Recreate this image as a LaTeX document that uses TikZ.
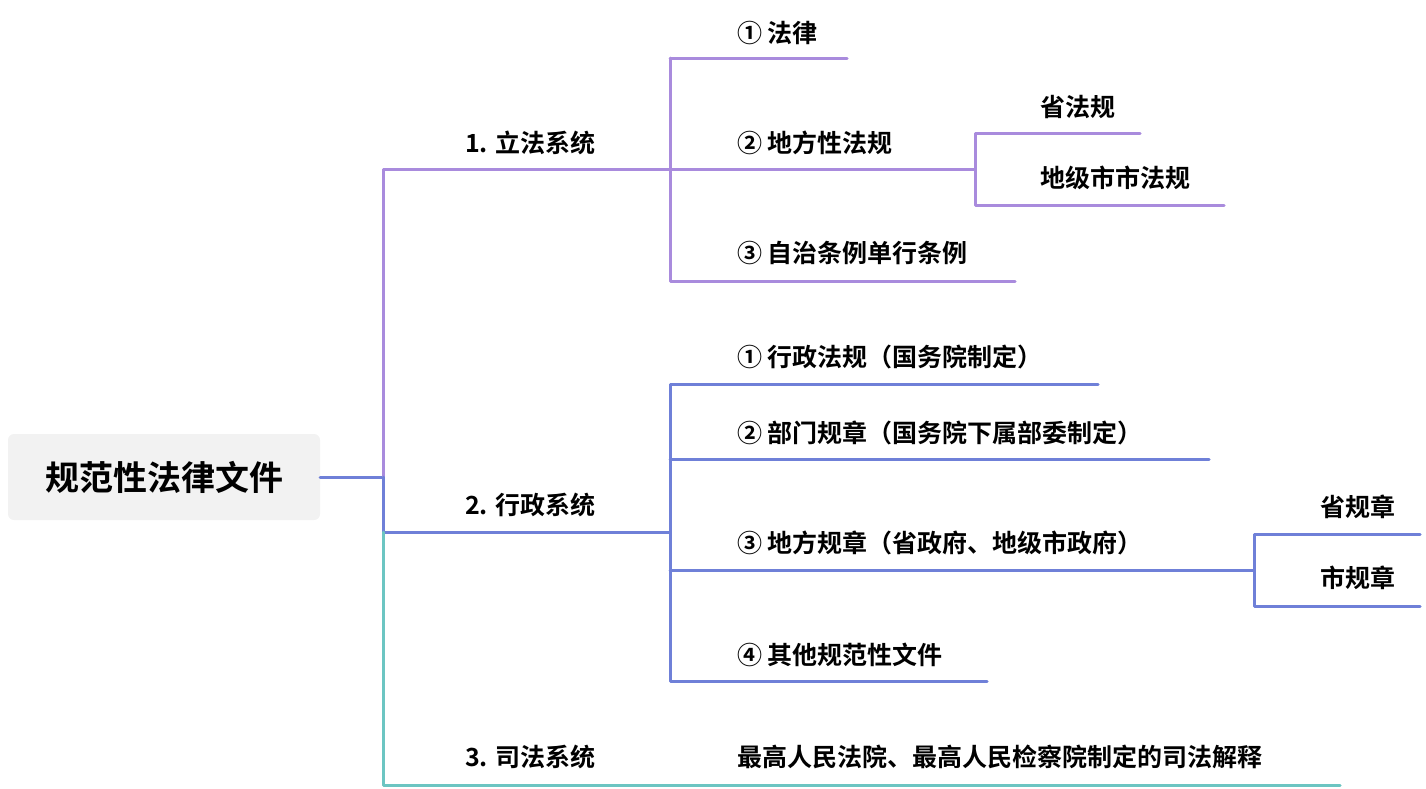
\documentclass[tikz,border=0pt]{standalone}
\usepackage{fontspec}
\setmainfont{Noto Sans CJK SC}[BoldFont={* Bold}]
\definecolor{pur}{HTML}{A98BDD}
\definecolor{blu}{HTML}{6F80D8}
\definecolor{tea}{HTML}{6CC5C2}
\begin{document}
\begin{tikzpicture}[x=1pt,y=-1pt,
  lbl/.style={anchor=west,inner sep=0pt,font=\fontsize{25}{28}\selectfont\bfseries},
  ln/.style={line width=3pt,line cap=round,line join=round}]
\useasboundingbox (0,0) rectangle (1426,788);
\node[fill=black!5,rounded corners=6pt,minimum width=312pt,minimum height=86pt,font=\fontsize{34}{38}\selectfont\bfseries] (root) at (164,477) {规范性法律文件};
\coordinate (j) at (383,477);
\draw[ln,blu] (root.east) -- (j);
% branch 1
\draw[ln,pur] (j) -- (383,169) -- (670,169);
\draw[ln,pur] (670,58) -- (847,58);
\draw[ln,pur] (670,58) -- (670,281) -- (1015,281);
\draw[ln,pur] (670,169) -- (975,169);
\draw[ln,pur] (1140,133) -- (975,133) -- (975,205) -- (1224,205);
\node[lbl] (b1) at (465,143) {1. 立法系统};
\node[lbl] (a1) at (737,33) {① 法律};
\node[lbl] (a2) at (737,143) {② 地方性法规};
\node[lbl] (a3) at (737,253) {③ 自治条例单行条例};
\node[lbl] (a21) at (1040,107) {省法规};
\node[lbl] (a22) at (1040,178) {地级市市法规};
% branch 2
\draw[ln,blu] (j) -- (383,532) -- (670,532);
\draw[ln,blu] (1098,384) -- (670,384) -- (670,681) -- (987,681);
\draw[ln,blu] (670,459) -- (1209,459);
\draw[ln,blu] (670,570) -- (1254,570);
\draw[ln,blu] (1420,534) -- (1254,534) -- (1254,606) -- (1420,606);
\node[lbl] (b2) at (465,505) {2. 行政系统};
\node[lbl] (c1) at (737,357) {① 行政法规（国务院制定）};
\node[lbl] (c2) at (737,433) {② 部门规章（国务院下属部委制定）};
\node[lbl] (c3) at (737,543) {③ 地方规章（省政府、地级市政府）};
\node[lbl] (c4) at (737,655) {④ 其他规范性文件};
\node[lbl] (c31) at (1320,507) {省规章};
\node[lbl] (c32) at (1320,578) {市规章};
% branch 3
\draw[ln,tea] (383,532) -- (383,785) -- (1340,785);
\node[lbl] (b3) at (465,757) {3. 司法系统};
\node[lbl] (d1) at (737,757) {最高人民法院、最高人民检察院制定的司法解释};
\end{tikzpicture}
\end{document}
